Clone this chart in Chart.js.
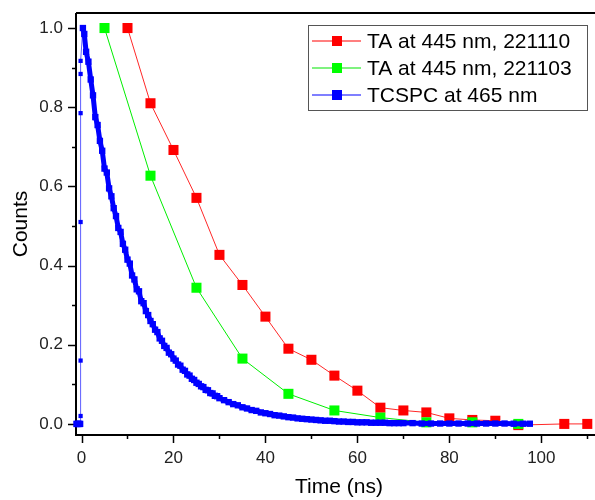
<!DOCTYPE html>
<html lang="en">
<head>
    <meta charset="UTF-8">
    <title>TA vs TCSPC decay</title>
    <style>
        html, body {
            margin: 0;
            padding: 0;
            background: #fff;
            overflow: hidden;
        }
        #chart-container {
            width: 610px;
            height: 500px;
        }
    </style>
</head>
<body>
    <div id="chart-container">
        <canvas id="decayChart"></canvas>
    </div>

    <script src="https://cdn.jsdelivr.net/npm/chart.js"></script>
    <script>
        // TA at 445 nm, 221110
        var taRedTime = [10, 15, 20, 25, 30, 35, 40, 45, 50, 55, 60, 65, 70, 75, 80, 85, 90, 95, 105, 110];
        var taRedCounts = [1.0, 0.81, 0.692, 0.571, 0.427, 0.351, 0.271, 0.19, 0.162, 0.122, 0.084, 0.041, 0.034, 0.029, 0.014, 0.01, 0.008, -0.003, 0.0, 0.0];

        // TA at 445 nm, 221103
        var taGreenTime = [5, 15, 25, 35, 45, 55, 65, 75, 85, 95];
        var taGreenCounts = [1.0, 0.627, 0.344, 0.165, 0.076, 0.034, 0.016, 0.004, 0.004, 0.0];

        // TCSPC at 465 nm
        var tcspcTime = [
            -1.1, -0.9, -0.7, -0.5, -0.3, -0.2, -0.2, -0.2, -0.2, -0.2, -0.2,
            0.3, 0.6, 1.0, 1.5, 2.0, 2.5, 3.0, 3.5, 4.0, 4.5, 5.0, 5.5, 6.0, 6.5, 7.0, 7.5, 8.0, 8.5, 9.0, 9.5,
            10.0, 10.5, 11.0, 11.5, 12.0, 12.5, 13.0, 13.5, 14.0, 14.5, 15.0, 15.5, 16.0, 16.5, 17.0, 17.5,
            18.0, 18.5, 19.0, 19.5, 20.0, 20.5, 21.0, 21.5, 22.0, 22.5, 23.0, 23.5, 24.0, 24.5, 25.0, 25.5,
            26.0, 26.5, 27.0, 27.5, 28.0, 28.5, 29.0, 29.5, 30.0,
            31, 32, 33, 34, 35, 36, 37, 38, 39, 40, 41, 42, 43, 44, 45, 46, 47, 48, 49, 50,
            51, 52, 53, 54, 55, 56, 57, 58, 59, 60, 61, 62, 63, 64, 65, 66, 67, 68, 69, 70,
            72, 74, 76, 78, 80, 82, 84, 86, 88, 90, 92, 94, 96, 97.5
        ];
        var tcspcCounts = [
            0.0, 0.0, 0.0, 0.0, 0.0, 0.02, 0.16, 0.51, 0.785, 0.884, 0.917,
            1.0, 0.985, 0.94, 0.915, 0.87, 0.83, 0.775, 0.755, 0.715, 0.69, 0.645, 0.635, 0.595, 0.575, 0.545, 0.525, 0.495, 0.485, 0.455, 0.44,
            0.415, 0.405, 0.375, 0.365, 0.34, 0.335, 0.31, 0.305, 0.285, 0.275, 0.26, 0.252, 0.238, 0.232, 0.216, 0.21,
            0.197, 0.192, 0.18, 0.176, 0.165, 0.16, 0.15, 0.147, 0.137, 0.134, 0.125, 0.122, 0.114, 0.111, 0.104, 0.101,
            0.095, 0.093, 0.086, 0.085, 0.078, 0.077, 0.071, 0.07, 0.065,
            0.06, 0.055, 0.05, 0.047, 0.042, 0.039, 0.035, 0.033, 0.029, 0.027, 0.025, 0.022, 0.021, 0.019, 0.017, 0.016, 0.014, 0.013, 0.012, 0.011,
            0.01, 0.009, 0.008, 0.008, 0.007, 0.006, 0.006, 0.005, 0.005, 0.004, 0.004, 0.004, 0.003, 0.003, 0.003, 0.003, 0.002, 0.002, 0.002, 0.002,
            0.002, 0.001, 0.001, 0.001, 0.001, 0.001, 0.001, 0.001, 0.001, 0.001, 0.001, 0.0005, 0.0005, 0.0005
        ];

        var xTicks = [0, 10, 20, 30, 40, 50, 60, 70, 80, 90, 100, 110];
        var yTicks = [0, 0.1, 0.2, 0.3, 0.4, 0.5, 0.6, 0.7, 0.8, 0.9, 1.0];

        function toPoints(xs, ys) {
            return xs.map(function (x, i) { return { x: x, y: ys[i] }; });
        }

        var FONT = 'Liberation Sans, Arial, sans-serif';
        Chart.defaults.font.family = FONT;

        // axis frame + outward tick marks like the original plot
        var framePlugin = {
            id: 'frame',
            beforeDatasetsDraw: function (chart) {
                var ctx = chart.ctx;
                var xs = chart.scales.x, ys = chart.scales.y;
                var left = xs.left, right = xs.right + 10, top = ys.top, bottom = ys.bottom;
                ctx.save();
                ctx.strokeStyle = '#000';
                ctx.lineWidth = 2;
                ctx.beginPath();
                ctx.moveTo(left, top);
                ctx.lineTo(left, bottom);
                ctx.lineTo(right, bottom);
                ctx.moveTo(left, top);
                ctx.lineTo(right, top);
                ctx.stroke();
                ctx.lineWidth = 1.5;
                ctx.beginPath();
                xTicks.forEach(function (v) {
                    var px = Math.round(xs.getPixelForValue(v)) + 0.5;
                    var len = v % 20 === 0 ? 8 : 4;
                    ctx.moveTo(px, bottom);
                    ctx.lineTo(px, bottom + len);
                });
                yTicks.forEach(function (v, i) {
                    var py = Math.round(ys.getPixelForValue(v)) + 0.5;
                    var len = i % 2 === 0 ? 8 : 4;
                    ctx.moveTo(left, py);
                    ctx.lineTo(left - len, py);
                });
                ctx.stroke();
                ctx.restore();
            }
        };

        // boxed legend: line - square - line, then label
        var legendPlugin = {
            id: 'boxLegend',
            afterDraw: function (chart) {
                var ctx = chart.ctx;
                var entries = [
                    { label: chart.data.datasets[2].label, line: 'rgba(255,0,0,0.5)', fill: '#ff0000' },
                    { label: chart.data.datasets[1].label, line: 'rgba(0,230,0,0.5)', fill: '#00ff00' },
                    { label: chart.data.datasets[0].label, line: 'rgba(0,0,255,0.5)', fill: '#0000ff' }
                ];
                ctx.save();
                ctx.fillStyle = '#fff';
                ctx.fillRect(308.5, 25.5, 279, 85);
                ctx.strokeStyle = '#555';
                ctx.lineWidth = 1;
                ctx.strokeRect(308.5, 25.5, 279, 85);
                ctx.font = '21px ' + FONT;
                ctx.textBaseline = 'middle';
                entries.forEach(function (e, i) {
                    var y = 41 + i * 27;
                    ctx.strokeStyle = e.line;
                    ctx.lineWidth = 2;
                    ctx.beginPath();
                    ctx.moveTo(312, y);
                    ctx.lineTo(361, y);
                    ctx.stroke();
                    ctx.fillStyle = e.fill;
                    ctx.fillRect(332, y - 5, 10, 10);
                    ctx.fillStyle = '#000';
                    ctx.fillText(e.label, 367, y + 1);
                });
                ctx.restore();
            }
        };

        var ctx = document.getElementById('decayChart').getContext('2d');
        var decayChart = new Chart(ctx, {
            type: 'scatter',
            data: {
                datasets: [
                    {
                        label: 'TCSPC at 465 nm',
                        data: toPoints(tcspcTime, tcspcCounts),
                        showLine: true,
                        borderColor: '#0000ff',
                        backgroundColor: '#0000ff',
                        borderWidth: 5,
                        pointStyle: 'rect',
                        pointRadius: function (c) {
                            return (c.raw && c.raw.x < 0 && c.raw.y > 0.01) ? 3 : 4.5;
                        },
                        pointBorderWidth: 0,
                        segment: {
                            borderWidth: function (c) {
                                return c.p1.parsed.y - c.p0.parsed.y > 0.01 ? 1 : 5;
                            },
                            borderColor: function (c) {
                                return c.p1.parsed.y - c.p0.parsed.y > 0.01 ? 'rgba(40,40,255,0.75)' : '#0000ff';
                            }
                        },
                        clip: false,
                        order: 1
                    },
                    {
                        label: 'TA at 445 nm, 221103',
                        data: toPoints(taGreenTime, taGreenCounts),
                        showLine: true,
                        borderColor: '#00ee00',
                        backgroundColor: '#00ff00',
                        borderWidth: 1,
                        pointStyle: 'rect',
                        pointRadius: 7.1,
                        pointBorderWidth: 0,
                        clip: false,
                        order: 2
                    },
                    {
                        label: 'TA at 445 nm, 221110',
                        data: toPoints(taRedTime, taRedCounts),
                        showLine: true,
                        borderColor: '#ff2828',
                        backgroundColor: '#ff0000',
                        borderWidth: 1,
                        pointStyle: 'rect',
                        pointRadius: 7.1,
                        pointBorderWidth: 0,
                        clip: false,
                        order: 3
                    }
                ]
            },
            options: {
                responsive: true,
                maintainAspectRatio: false,
                animation: false,
                layout: { padding: { top: 13, right: 8, left: 0, bottom: 0 } },
                plugins: {
                    legend: { display: false },
                    tooltip: { enabled: false }
                },
                scales: {
                    x: {
                        type: 'linear',
                        min: -1.2,
                        max: 113.2,
                        afterFit: function (s) {
                            s.height = 65;
                            s.paddingLeft = 0;
                            s.paddingRight = 0;
                        },
                        grid: { display: false, drawTicks: false },
                        border: { display: false },
                        ticks: {
                            stepSize: 20,
                            includeBounds: false,
                            padding: 13,
                            color: '#222',
                            font: { size: 17 },
                            maxRotation: 0,
                            callback: function (v) { return v; }
                        },
                        title: {
                            display: true,
                            text: 'Time (ns)',
                            color: '#000',
                            font: { size: 21 },
                            padding: { top: 0, bottom: 0 }
                        }
                    },
                    y: {
                        type: 'linear',
                        min: -0.028,
                        max: 1.038,
                        afterFit: function (s) {
                            s.width = 76;
                            s.paddingTop = 0;
                            s.paddingBottom = 0;
                        },
                        grid: { display: false, drawTicks: false },
                        border: { display: false },
                        ticks: {
                            stepSize: 0.2,
                            includeBounds: false,
                            padding: 13,
                            color: '#222',
                            font: { size: 17 },
                            callback: function (v) { return v.toFixed(1); }
                        },
                        title: {
                            display: true,
                            text: 'Counts',
                            color: '#000',
                            font: { size: 21 },
                            padding: { top: 9, bottom: 0 }
                        }
                    }
                }
            },
            plugins: [framePlugin, legendPlugin]
        });
    </script>
</body>
</html>
